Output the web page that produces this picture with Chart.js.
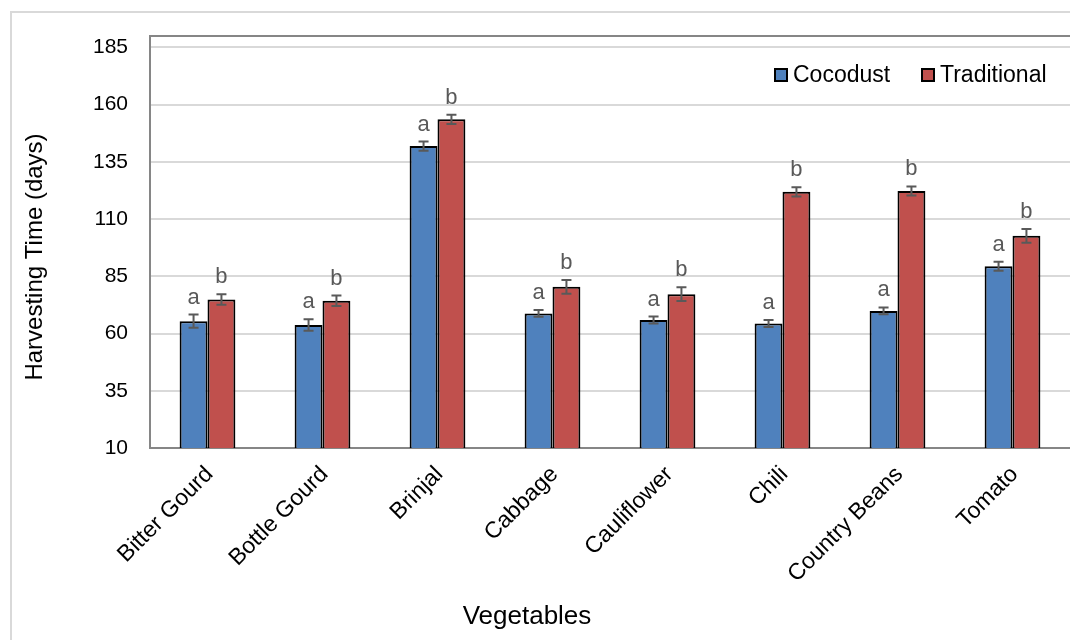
<!DOCTYPE html>
<html>
<head>
<meta charset="utf-8">
<script src="https://cdn.jsdelivr.net/npm/chart.js@4.4.1/dist/chart.umd.min.js"></script>
<style>
  html, body { margin: 0; padding: 0; background: #fff; overflow: hidden; }
  #wrap { width: 1070px; height: 640px; }
</style>
</head>
<body>
<div id="wrap"><canvas id="myChart"></canvas></div>
<script>
// categories
const vegetables = ["Bitter Gourd", "Bottle Gourd", "Brinjal", "Cabbage", "Cauliflower", "Chili", "Country Beans", "Tomato"];

// series values (days)
const cocodust = [65.4, 63.7, 141.9, 68.8, 65.9, 64.4, 69.9, 89.4];
const traditional = [74.9, 74.3, 153.6, 80.4, 77.2, 121.9, 122.3, 102.7];

// error bars (+/-)
const cocodustErr = [2.9, 2.5, 2, 1.5, 1.5, 1.5, 1.5, 2];
const traditionalErr = [2.3, 2.3, 2, 3, 3, 2, 2, 3];

// significance letters
const cocodustLetters = ["a", "a", "a", "a", "a", "a", "a", "a"];
const traditionalLetters = ["b", "b", "b", "b", "b", "b", "b", "b"];

// y tick labels
const yTicks = [10, 35, 60, 85, 110, 135, 160, 185];
const yMin = 10, yMax = 190;

const FONT = "'Liberation Sans', Arial, sans-serif";

// white background + light frame
const frame = {
  id: "frame",
  beforeDraw(chart) {
    const ctx = chart.ctx;
    ctx.save();
    ctx.fillStyle = "#fff";
    ctx.fillRect(0, 0, chart.width, chart.height);
    ctx.strokeStyle = "#d9d9d9";
    ctx.lineWidth = 2;
    ctx.beginPath();
    ctx.moveTo(11, chart.height);
    ctx.lineTo(11, 12);
    ctx.lineTo(chart.width, 12);
    ctx.stroke();
    ctx.restore();
  },
};

// error bars and letters
const errorBars = {
  id: "errorBars",
  afterDatasetsDraw(chart) {
    const ctx = chart.ctx;
    const y = chart.scales.y;
    chart.data.datasets.forEach((ds, i) => {
      const meta = chart.getDatasetMeta(i);
      meta.data.forEach((bar, j) => {
        const v = ds.data[j];
        const e = ds.errors[j];
        const top = y.getPixelForValue(v + e);
        const bot = y.getPixelForValue(v - e);
        ctx.save();
        ctx.strokeStyle = "#595959";
        ctx.lineWidth = 2;
        ctx.beginPath();
        ctx.moveTo(bar.x, top);
        ctx.lineTo(bar.x, bot);
        ctx.moveTo(bar.x - 5, top);
        ctx.lineTo(bar.x + 5, top);
        ctx.moveTo(bar.x - 5, bot);
        ctx.lineTo(bar.x + 5, bot);
        ctx.stroke();
        ctx.fillStyle = "#595959";
        ctx.font = "22px " + FONT;
        ctx.textAlign = "center";
        ctx.textBaseline = "alphabetic";
        ctx.fillText(ds.letters[j], bar.x, top - 11);
        ctx.restore();
      });
    });
  },
};

// legend box in the top right corner of the plot, plus axis titles
const extras = {
  id: "extras",
  afterDraw(chart) {
    const ctx = chart.ctx;
    ctx.save();
    ctx.fillStyle = "#000";
    ctx.textBaseline = "middle";

    // legend
    const legendX = [775, 922];
    const legendY = 75;
    ctx.font = "23px " + FONT;
    ctx.textAlign = "left";
    chart.data.datasets.forEach((ds, i) => {
      const x = legendX[i];
      ctx.fillStyle = ds.backgroundColor;
      ctx.fillRect(x, legendY - 6, 12, 12);
      ctx.strokeStyle = "#000";
      ctx.lineWidth = 2;
      ctx.strokeRect(x, legendY - 6, 12, 12);
      ctx.fillStyle = "#000";
      ctx.fillText(ds.label, x + 18, legendY + 1);
    });

    // x title
    ctx.font = "26px " + FONT;
    ctx.textAlign = "center";
    ctx.fillText("Vegetables", 527, 617);

    // y title
    ctx.translate(35, 257);
    ctx.rotate(-Math.PI / 2);
    ctx.font = "24px " + FONT;
    ctx.fillText("Harvesting Time (days)", 0, 0);
    ctx.restore();
  },
};

const data = {
  labels: vegetables,
  datasets: [
    {
      label: "Cocodust",
      data: cocodust,
      errors: cocodustErr,
      letters: cocodustLetters,
      backgroundColor: "#4F81BD",
      borderColor: "#000",
      borderWidth: 2,
      categoryPercentage: 0.485,
      barPercentage: 1,
    },
    {
      label: "Traditional",
      data: traditional,
      errors: traditionalErr,
      letters: traditionalLetters,
      backgroundColor: "#C0504D",
      borderColor: "#000",
      borderWidth: 2,
      categoryPercentage: 0.485,
      barPercentage: 1,
    },
  ],
};

const config = {
  type: "bar",
  data: data,
  options: {
    responsive: true,
    maintainAspectRatio: false,
    animation: false,
    devicePixelRatio: 1,
    layout: { padding: { top: 36, left: 0, right: 0, bottom: 0 } },
    plugins: {
      tooltip: { enabled: false },
      legend: { display: false },
    },
    scales: {
      x: {
        grid: { display: false, drawTicks: false },
        border: { color: "#868686", width: 2 },
        ticks: {
          color: "#000",
          font: { family: FONT, size: 23 },
          maxRotation: 45,
          minRotation: 45,
          padding: 13,
          labelOffset: 2,
        },
        afterFit(scale) {
          scale.height = 640 - 448;
        },
      },
      y: {
        min: yMin,
        max: yMax,
        afterBuildTicks(scale) {
          scale.ticks = yTicks.concat([yMax]).map((v) => ({ value: v }));
        },
        grid: {
          drawTicks: false,
          lineWidth: 2,
          color: (c) => (c.tick && c.tick.value === yMax ? "#868686" : "#d9d9d9"),
        },
        border: { color: "#868686", width: 2 },
        ticks: {
          color: "#000",
          font: { family: FONT, size: 21 },
          padding: 22,
          callback: (v) => (v === yMax ? "" : v),
        },
        afterFit(scale) {
          scale.width = 150;
        },
      },
    },
  },
  plugins: [frame, errorBars, extras],
};

const myChart = new Chart(document.getElementById("myChart"), config);
</script>
</body>
</html>
